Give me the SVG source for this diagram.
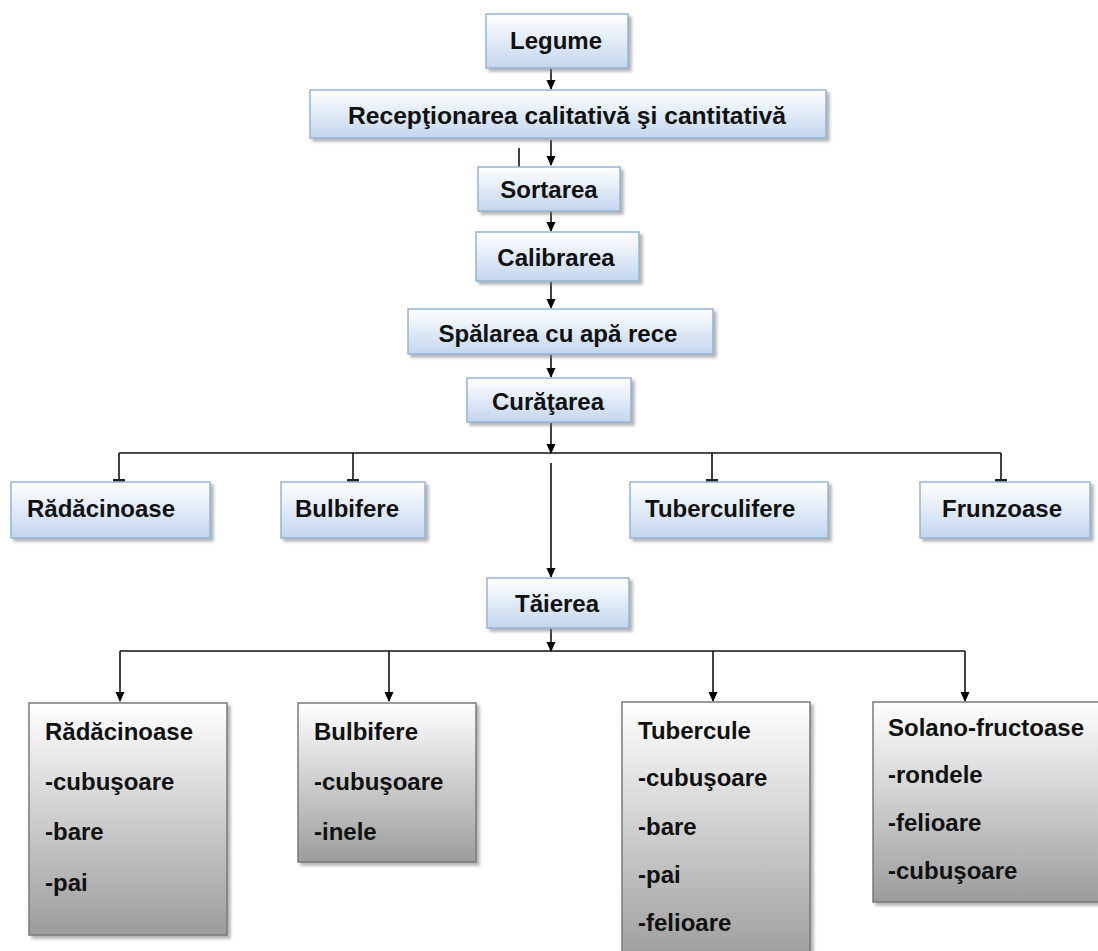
<svg xmlns="http://www.w3.org/2000/svg" width="1098" height="951" viewBox="0 0 1098 951">
<defs>
<linearGradient id="gBlue" x1="0" y1="0" x2="0" y2="1">
<stop offset="0" stop-color="#ffffff"/>
<stop offset="1" stop-color="#c3d6ee"/>
</linearGradient>
<linearGradient id="gGray" x1="0" y1="0" x2="0" y2="1">
<stop offset="0" stop-color="#ffffff"/>
<stop offset="1" stop-color="#9c9c9c"/>
</linearGradient>
<filter id="sh" x="-10%" y="-10%" width="130%" height="140%">
<feDropShadow dx="3" dy="3" stdDeviation="1.5" flood-color="#777" flood-opacity="0.55"/>
</filter>
<marker id="arr" markerWidth="10" markerHeight="10" refX="9" refY="5" orient="auto" markerUnits="userSpaceOnUse">
<path d="M0,0.5 L10,5 L0,9.5 z" fill="#000"/>
</marker>
<marker id="tee" markerWidth="4" markerHeight="14" refX="2" refY="7" orient="auto" markerUnits="userSpaceOnUse">
<rect x="0" y="1" width="3" height="12" fill="#222"/>
</marker>
</defs>
<style>
.b{fill:url(#gBlue);stroke:#95b3d7;stroke-width:1.5;filter:url(#sh)}
.g{fill:url(#gGray);stroke:#7a7a7a;stroke-width:1.5;filter:url(#sh)}
text{font-family:"Liberation Sans",Arial,sans-serif;font-weight:bold;font-size:24px;fill:#111}
.c{text-anchor:middle}
.ln{stroke:#111;stroke-width:1.6;fill:none}
</style>

<g id="connectors">
<line class="ln" x1="551" y1="69" x2="551" y2="89" marker-end="url(#arr)"/>
<line class="ln" x1="519" y1="148" x2="519" y2="175"/>
<line class="ln" x1="551" y1="140" x2="551" y2="165" marker-end="url(#arr)"/>
<line class="ln" x1="551" y1="211" x2="551" y2="231" marker-end="url(#arr)"/>
<line class="ln" x1="551" y1="282" x2="551" y2="308" marker-end="url(#arr)"/>
<line class="ln" x1="551" y1="355" x2="551" y2="377" marker-end="url(#arr)"/>
<line class="ln" x1="551" y1="423" x2="551" y2="453" marker-end="url(#arr)"/>
<line class="ln" x1="119" y1="453" x2="1001" y2="453"/>
<line class="ln" x1="119" y1="453" x2="119" y2="481" marker-end="url(#tee)"/>
<line class="ln" x1="353" y1="453" x2="353" y2="481" marker-end="url(#tee)"/>
<line class="ln" x1="712" y1="453" x2="712" y2="481" marker-end="url(#tee)"/>
<line class="ln" x1="1001" y1="453" x2="1001" y2="481" marker-end="url(#tee)"/>
<line class="ln" x1="551" y1="463" x2="551" y2="577" marker-end="url(#arr)"/>
<line class="ln" x1="551" y1="629" x2="551" y2="651" marker-end="url(#arr)"/>
<line class="ln" x1="120" y1="651" x2="965" y2="651"/>
<line class="ln" x1="120" y1="651" x2="120" y2="701" marker-end="url(#arr)"/>
<line class="ln" x1="389" y1="651" x2="389" y2="701" marker-end="url(#arr)"/>
<line class="ln" x1="713" y1="651" x2="713" y2="701" marker-end="url(#arr)"/>
<line class="ln" x1="965" y1="651" x2="965" y2="701" marker-end="url(#arr)"/>
</g>

<g id="legume"><rect class="b" x="486" y="14" width="142" height="54"/><text class="c" x="556" y="49">Legume</text></g>
<g id="receptionarea"><rect class="b" x="310" y="90" width="516" height="48"/><text class="c" x="567" y="124" textLength="438" lengthAdjust="spacingAndGlyphs">Recepţionarea calitativă şi cantitativă</text></g>
<g id="sortarea"><rect class="b" x="478" y="167" width="142" height="44"/><text class="c" x="549" y="198">Sortarea</text></g>
<g id="calibrarea"><rect class="b" x="476" y="232" width="163" height="49"/><text class="c" x="556" y="266">Calibrarea</text></g>
<g id="spalarea"><rect class="b" x="408" y="309" width="305" height="45"/><text class="c" x="558" y="342">Spălarea cu apă rece</text></g>
<g id="curatarea"><rect class="b" x="467" y="378" width="164" height="44"/><text class="c" x="548" y="410">Curăţarea</text></g>

<g id="radacinoase1"><rect class="b" x="11" y="482" width="199" height="56"/><text x="27" y="517">Rădăcinoase</text></g>
<g id="bulbifere1"><rect class="b" x="281" y="482" width="144" height="56"/><text x="295" y="517">Bulbifere</text></g>
<g id="tuberculifere"><rect class="b" x="630" y="482" width="198" height="56"/><text x="645" y="517">Tuberculifere</text></g>
<g id="frunzoase"><rect class="b" x="920" y="482" width="170" height="56"/><text x="942" y="517">Frunzoase</text></g>

<g id="taierea"><rect class="b" x="487" y="578" width="142" height="50"/><text class="c" x="557" y="612">Tăierea</text></g>

<g id="radacinoase2"><rect class="g" x="29" y="703" width="198" height="232"/>
<text x="45" y="740">Rădăcinoase</text><text x="45" y="790">-cubuşoare</text><text x="45" y="840">-bare</text><text x="45" y="891">-pai</text></g>
<g id="bulbifere2"><rect class="g" x="298" y="703" width="178" height="159"/>
<text x="314" y="740">Bulbifere</text><text x="314" y="790">-cubuşoare</text><text x="314" y="840">-inele</text></g>
<g id="tubercule"><rect class="g" x="622" y="702" width="188" height="262"/>
<text x="638" y="739">Tubercule</text><text x="638" y="786">-cubuşoare</text><text x="638" y="835">-bare</text><text x="638" y="883">-pai</text><text x="638" y="931">-felioare</text></g>
<g id="solano"><rect class="g" x="873" y="702" width="240" height="200"/>
<text x="888" y="736">Solano-fructoase</text><text x="888" y="783">-rondele</text><text x="888" y="831">-felioare</text><text x="888" y="879">-cubuşoare</text></g>
</svg>
